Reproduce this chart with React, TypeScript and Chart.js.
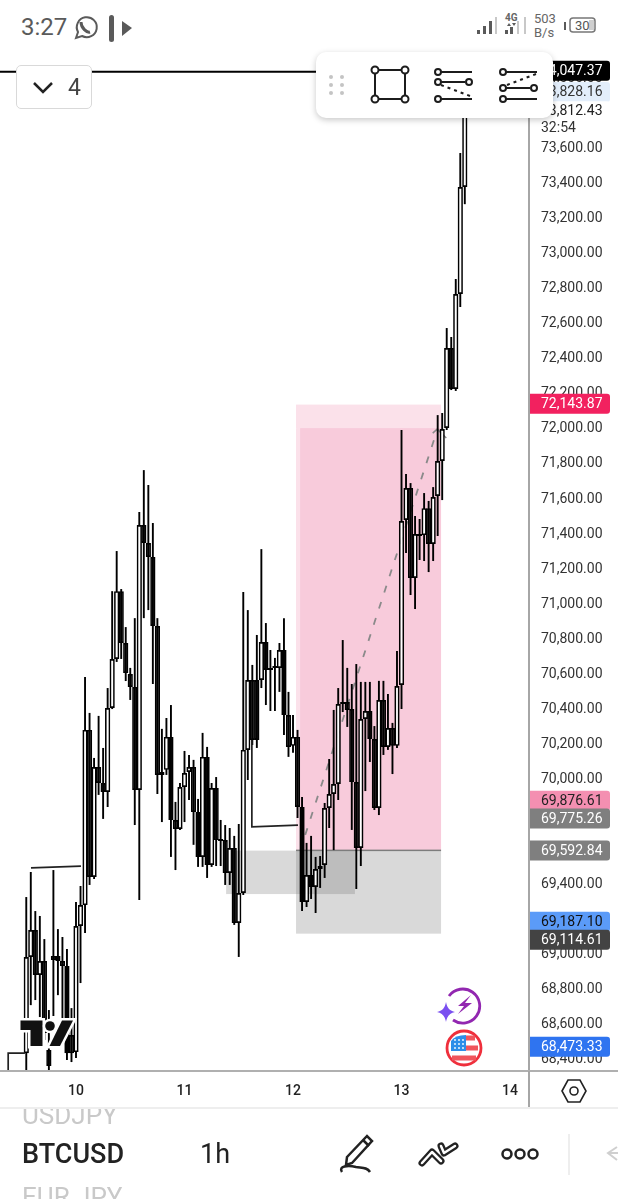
import React, { useEffect, useRef } from "react";
import { Chart, registerables } from "chart.js";

Chart.register(...registerables);

const firstHour = -11;
const highs = [
  69319,69462,69239,69211,69079,68674,69473,69136,69091,69022,
  68685,69291,69382,70575,70370,70113,70353,70170,70512,71065,
  71294,71077,70860,70627,70911,71517,71756,71671,71454,70911,
  70279,70341,70415,69862,69970,70153,70130,70102,69879,70256,
  70176,69970,70004,69759,69730,69713,69668,69736,71060,70957,
  70644,70815,71305,70883,70729,70684,70769,70911,70490,70358,
  70273,69890,69628,69668,69548,69553,69856,70107,70387,70512,
  70786,70627,70535,70649,70547,70547,70547,70295,70553,70553,
  70478,70313,70723,71985,71734,71682,71494,71477,71625,71580,
  71659,72070,72082,72567,72516,72847,73566,74047,
];
const lows = [
  68330,68702,68731,68634,68503,68326,68640,68759,68628,68389,
  68377,68400,68828,69114,69388,69422,69902,69765,69833,70392,
  70661,70678,70552,70444,69730,69302,70911,70957,70535,69907,
  69747,70016,69548,69473,69702,69747,69873,69617,69491,69491,
  69428,69491,69496,69496,69388,69388,69160,68977,69331,69987,
  70187,70170,70512,70415,70381,70381,70490,70244,70119,70142,
  69770,69239,69262,69308,69228,69371,69428,69713,69587,69873,
  70375,70290,69702,69365,69496,69924,70090,69816,69787,70130,
  70159,70021,70170,70392,71283,71043,70963,71243,71237,71174,
  71237,71380,71585,71985,72213,72208,72687,73274,
];
const opens = [
  68428,68977,69131,68874,68954,68446,68982,68982,68954,68925,
  68531,68434,69154,69273,70273,69433,70061,69970,69919,70398,
  70678,71065,70769,70592,70518,69930,71442,71340,71260,70866,
  70016,70045,70233,69759,69708,69947,70033,70061,69805,69548,
  70119,69502,69941,69650,69644,69456,69599,69171,69342,70159,
  70558,70558,70558,70775,70627,70627,70627,70729,70358,70182,
  70233,69833,69291,69445,69376,69479,69502,69827,69907,69964,
  70432,70432,70392,69976,69599,70335,70381,70221,69827,70444,
  70176,70284,70182,70529,71471,71654,71140,71391,71385,71539,
  71334,71608,71808,71996,72453,72219,72761,73372,
];
const closes = [
  68977,69131,68874,68954,68543,68354,68960,68954,68925,68428,
  68428,69154,69273,70273,69433,70061,69970,69919,70398,70678,
  71065,70769,70598,70518,69930,71442,71340,71260,70866,70016,
  70033,70233,69759,69708,69947,70027,70061,69805,69548,70119,
  69502,69941,69644,69639,69456,69599,69171,69342,70159,70558,
  70216,70216,70775,70615,70615,70638,70729,70358,70176,70233,
  69833,69291,69445,69376,69479,69496,69827,69907,69964,70421,
  70421,70387,69976,69599,70335,70381,70221,69827,70444,70176,
  70284,70182,70524,71465,71654,71140,71391,71380,71539,71334,
  71602,71808,71990,72453,72219,72761,73372,73812,
];

const dayHours = [0, 24, 48, 72, 96];
const dayLabels = ["10", "11", "12", "13", "14"];
const priceTicks = [
  68400,68600,68800,69000,69200,69400,69600,69800,70000,70200,70400,70600,
  70800,71000,71200,71400,71600,71800,72000,72200,72400,72600,72800,73000,
  73200,73400,73600,73800,74000,
];

// price markers on the right axis
const markerPrices = [74047.37, 73828.16, 73812.43, 72143.87, 69876.61, 69775.26, 69592.84, 69187.1, 69114.61, 68473.33];
const markerFills = ["#000000", "#e3eefb", "#ffffff", "#f2215f", "#f48fb1", "#7f7f7f", "#7f7f7f", "#5b9bf8", "#434343", "#2f74f0"];
const markerInks = ["#ffffff", "#333333", "#222222", "#ffffff", "#222222", "#ffffff", "#ffffff", "#111111", "#ffffff", "#ffffff"];
const markerNudges = [2, -15, 1.5, 1.5, 1.5, 1.5, 1.5, 1.5, 7, 1.5];
const countdownText = "32:54";

// zones: hour start, hour end, top price, bottom price
const targetZone = [48.67, 80.75, 72130, 71996];
const targetEdge = [48.67, 49.56, 71996, 69584];
const targetMain = [49.56, 80.75, 71996, 69584];
const stopZone = [48.67, 80.75, 69584, 69110];
const leftZone = [33.2, 61.7, 69584, 69336];

const dashHours = [50.7, 79.9];
const dashPrices = [69674, 71985];
const arrowHours = [78.9, 79.9, 81.9];
const arrowPrices = [71967, 71990, 71939];
const hookAHours = [-9.96, 1.1];
const hookAPrices = [69485, 69496];
const hookBHours = [38.9, 38.9, 49.1];
const hookBPrices = [70216, 69719, 69730];
const hookCHours = [-15, -15, -11.3];
const hookCPrices = [68326, 68428, 68428];
const topLineHours = [-16.81, 100.2];
const topLinePrices = [74030, 74030];

const toPoints = (xs: number[], ys: number[]) => xs.map((x, i) => ({ x, y: ys[i] }));
const fmt = (v: number) => v.toLocaleString("en-US", { minimumFractionDigits: 2, maximumFractionDigits: 2 });

const overlayPlugin = {
  id: "overlays",
  beforeDatasetsDraw(chart: any) {
    const { ctx, scales: { x, y } } = chart;
    const rect = (z: number[], color: string) => {
      const l = x.getPixelForValue(z[0]);
      const r = x.getPixelForValue(z[1]);
      const t = y.getPixelForValue(z[2]);
      const b = y.getPixelForValue(z[3]);
      ctx.fillStyle = color;
      ctx.fillRect(l, t, r - l, b - t);
    };
    ctx.save();
    rect(targetZone, "#fbe1ea");
    rect(targetEdge, "#fbe1ea");
    rect(targetMain, "#f8cbdb");
    rect(stopZone, "#d9d9d9");
    rect(leftZone, "rgba(120,120,120,0.28)");
    const lineY = y.getPixelForValue(targetMain[3]);
    ctx.fillStyle = "#7d7d7d";
    ctx.fillRect(x.getPixelForValue(stopZone[0]), lineY - 1, x.getPixelForValue(stopZone[1]) - x.getPixelForValue(stopZone[0]), 1.5);
    ctx.restore();
  },
  afterDraw(chart: any) {
    const { ctx, scales: { y } } = chart;
    ctx.save();
    ctx.font = "14px Roboto";
    ctx.textBaseline = "middle";
    ctx.textAlign = "left";
    markerPrices.forEach((p, i) => {
      const cy = y.getPixelForValue(p) + markerNudges[i];
      ctx.fillStyle = markerFills[i];
      ctx.beginPath();
      ctx.roundRect(530, cy - 10, 80, 20, [0, 3, 3, 0]);
      ctx.fill();
      ctx.fillStyle = markerInks[i];
      ctx.fillText(fmt(p), 541, cy + 0.5);
    });
    ctx.fillStyle = "#ffffff";
    ctx.fillRect(530, 120, 80, 16);
    ctx.fillStyle = "#333333";
    ctx.fillText(countdownText, 541, 128);
    ctx.restore();
  },
};

const lineBase = { type: "line", pointRadius: 0, fill: false, tension: 0, spanGaps: true };
const tickLabelShift = 9;

export default function App() {
  const ref = useRef<HTMLCanvasElement | null>(null);
  useEffect(() => {
    document.body.style.margin = "0";
    const idx = highs.map((_, i) => firstHour + i);
    const chart = new Chart(ref.current as HTMLCanvasElement, {
      type: "bar",
      data: {
        datasets: [
          { ...lineBase, data: toPoints(dashHours, dashPrices), borderColor: "#8a8a8a", borderWidth: 1.8, borderDash: [7, 10], order: 5 },
          { ...lineBase, data: toPoints(arrowHours, arrowPrices), borderColor: "#8a8a8a", borderWidth: 1.5, order: 5 },
          {
            type: "bar",
            data: idx.map((h, i) => ({ x: h, y: [lows[i], highs[i]] })),
            backgroundColor: "#000000",
            borderWidth: 0,
            grouped: false,
            barPercentage: 0.42,
            categoryPercentage: 1,
            order: 3,
          },
          {
            type: "bar",
            data: idx.map((h, i) => ({ x: h, y: [opens[i], closes[i]] })),
            backgroundColor: idx.map((_, i) => (closes[i] >= opens[i] ? "#ffffff" : "#000000")),
            borderColor: "#000000",
            borderWidth: 1.7,
            borderSkipped: false,
            minBarLength: 2,
            grouped: false,
            barPercentage: 1.16,
            categoryPercentage: 1,
            order: 2,
          },
          { ...lineBase, data: toPoints(hookAHours, hookAPrices), borderColor: "#222222", borderWidth: 1.7, order: 1 },
          { ...lineBase, data: toPoints(hookBHours, hookBPrices), borderColor: "#222222", borderWidth: 1.7, order: 1 },
          { ...lineBase, data: toPoints(hookCHours, hookCPrices), borderColor: "#222222", borderWidth: 1.7, order: 1 },
          { ...lineBase, data: toPoints(topLineHours, topLinePrices), borderColor: "#000000", borderWidth: 2, order: 1 },
        ] as any,
      },
      options: {
        responsive: false,
        animation: false,
        layout: { padding: { top: 60, left: 0, right: 0, bottom: 0 } },
        plugins: { legend: { display: false }, tooltip: { enabled: false } },
        scales: {
          x: {
            type: "linear",
            min: -16.81,
            max: 100.2,
            offset: false,
            grid: { display: false, drawTicks: false },
            border: { display: false },
            afterBuildTicks: (s: any) => { s.ticks = dayHours.map((value) => ({ value })); },
            afterFit: (s: any) => { s.height = 128; },
            ticks: {
              autoSkip: false,
              maxRotation: 0,
              padding: 12,
              color: "#222222",
              font: { family: "Roboto", size: 14, weight: "500" },
              callback: (v: any) => dayLabels[dayHours.indexOf(Number(v))] ?? "",
            },
          },
          y: {
            position: "right",
            type: "linear",
            min: 68326,
            max: 74097,
            grid: { display: false, drawTicks: false },
            border: { display: true, color: "#a6a6a6", width: 2 },
            afterBuildTicks: (s: any) => { s.ticks = priceTicks.map((p) => ({ value: p - tickLabelShift })); },
            afterFit: (s: any) => { s.width = 89; },
            ticks: {
              autoSkip: false,
              padding: 12,
              color: "#333333",
              font: { family: "Roboto", size: 14 },
              callback: (_: any, i: number) => fmt(priceTicks[i]),
            },
          },
        },
      } as any,
      plugins: [overlayPlugin] as any,
    });
    return () => chart.destroy();
  }, []);

  const text = (left: number, top: number, s: string, style: React.CSSProperties = {}) => (
    <div style={{ position: "absolute", left, top, fontFamily: "Roboto", lineHeight: 1, whiteSpace: "nowrap", ...style }}>{s}</div>
  );

  return (
    <div style={{ position: "absolute", left: 0, top: 0, width: 618, height: 1199, overflow: "hidden", background: "#fff" }}>
      <canvas ref={ref} width={618} height={1199} style={{ display: "block", position: "absolute", left: 0, top: 0 }} />

      {/* status bar */}
      <div style={{ position: "absolute", left: 0, top: 0, width: 618, height: 60, background: "#fff" }} />
      {text(21, 15, "3:27", { fontSize: 24, color: "#5a5a5a" })}
      {text(534, 12, "503", { fontSize: 13, color: "#666" })}
      {text(534, 26, "B/s", { fontSize: 13, color: "#666" })}
      <svg width={618} height={1199} style={{ position: "absolute", left: 0, top: 0, pointerEvents: "none" }}>
        <g fill="none" stroke="#5a5a5a" strokeWidth="2">
          <path d="M76 38 L78 32 A10 10 0 1 1 82 36 Z" />
          <path d="M81 22 C81 28 87 33 90 32" strokeWidth="3" />
        </g>
        <g fill="#5a5a5a">
          <rect x="109" y="15" width="5" height="27" rx="2.5" />
          <path d="M122 21 L132 28 L122 36 Z" />
          <rect x="477" y="30" width="3" height="4" />
          <rect x="483" y="26" width="3" height="8" />
          <rect x="489" y="21" width="3" height="13" />
          <rect x="495" y="17" width="2" height="17" fill="#c8c8c8" />
          <rect x="505" y="30" width="3" height="4" />
          <rect x="510" y="27" width="3" height="7" />
          <rect x="517" y="21" width="2" height="13" fill="#c8c8c8" />
          <rect x="524" y="17" width="2" height="17" fill="#c8c8c8" />
          <rect x="564" y="22" width="2" height="8" />
          <path d="M507 26 L509 23 L511 26 Z M512 23 L514 26 L516 23 Z" />
        </g>
        <rect x="570" y="18" width="25" height="14" rx="3" fill="none" stroke="#777" strokeWidth="1.5" />
        <rect x="589" y="20" width="5" height="10" fill="#cfcfcf" />
        <text x="575" y="30" fontFamily="Roboto" fontSize="13" fill="#555">30</text>
        <text x="505" y="21" fontFamily="Roboto" fontSize="10" fontWeight="700" fill="#666">4G</text>
      </svg>

      {/* collapse box */}
      <div style={{ position: "absolute", left: 16, top: 65, width: 74, height: 42, background: "#fff", border: "1px solid #d9d9d9", borderRadius: 5 }} />
      {text(68, 76, "4", { fontSize: 23, color: "#444" })}

      {/* drawing toolbar */}
      <div style={{ position: "absolute", left: 316, top: 52, width: 237, height: 66, background: "#fff", borderRadius: 10, boxShadow: "0 2px 6px rgba(0,0,0,0.22)" }} />

      <svg width={618} height={1199} style={{ position: "absolute", left: 0, top: 0, pointerEvents: "none" }}>
        <path d="M34 83 L43 92 L52 83" fill="none" stroke="#222" strokeWidth="2.5" />
        <g fill="#c4c4c4">
          {[331, 342].map((cx) => [77, 85, 93].map((cy) => <circle key={`${cx}-${cy}`} cx={cx} cy={cy} r="2" />))}
        </g>
        <g fill="#fff" stroke="#1c1c1c" strokeWidth="2">
          <rect x="375" y="70" width="30" height="29" fill="none" />
          <circle cx="375" cy="70" r="3.5" /><circle cx="405" cy="70" r="3.5" />
          <circle cx="375" cy="99" r="3.5" /><circle cx="405" cy="99" r="3.5" />
          <path d="M441 72 H472 M441 82 H465 M441 99 H472" />
          <circle cx="438" cy="72" r="3" /><circle cx="438" cy="82" r="3" /><circle cx="469" cy="82" r="3" /><circle cx="438" cy="99" r="3" />
          <path d="M441 85 L470 96" strokeDasharray="3 4" />
          <path d="M506 72 H537 M506 88 H530 M506 99 H537" />
          <circle cx="503" cy="72" r="3" /><circle cx="503" cy="88" r="3" /><circle cx="534" cy="88" r="3" /><circle cx="503" cy="99" r="3" />
          <path d="M507 85 L536 74" strokeDasharray="3 4" />
        </g>

        {/* TradingView logo */}
        <g fill="#111" stroke="#fff" strokeWidth="5" paintOrder="stroke">
          <path d="M20.5 1020.5 H42.5 V1046 H30.5 V1030 H20.5 Z" />
          <circle cx="50" cy="1026" r="4.8" />
          <path d="M62 1020.5 H73 L60 1046 H49.5 Z" />
        </g>

        {/* purple + flag badges */}
        <path d="M449 996 A17 17 0 1 1 453 1020" fill="none" stroke="#9227b0" strokeWidth="2.8" />
        <path d="M471 995 L458 1006 L464 1006 L458 1014 L472 1003 L465 1003 Z" fill="#9227b0" />
        <path d="M446 1002 C447 1008 450 1011 455 1012 C450 1013 447 1016 446 1022 C445 1016 442 1013 437 1012 C442 1011 445 1008 446 1002 Z" fill="#7a4ff0" />
        <circle cx="464" cy="1048" r="17" fill="#fff" stroke="#ef2f3c" strokeWidth="2.8" />
        <path d="M466 1038 H475 M466 1048 H478 M452 1058 H476" stroke="#f0555c" strokeWidth="5" />
        <path d="M451 1051 V1041 Q455 1035 466 1035 V1051 Z" fill="#2d8ee8" />
        <g fill="#fff">
          {[455, 459, 463].map((cx) => [1040, 1044, 1048].map((cy) => <circle key={`s${cx}-${cy}`} cx={cx} cy={cy} r="0.9" />))}
        </g>

        {/* axis remainder */}
        <path d="M0 1071 H618" stroke="#b0b0b0" strokeWidth="2" />
        <path d="M529 1071 V1108" stroke="#a6a6a6" strokeWidth="2" />
        <path d="M0 1108 H618" stroke="#eeeeee" strokeWidth="2" />
        {/* hexagon */}
        <path d="M562 1091 L568 1080 H580 L586 1091 L580 1102 H568 Z" fill="none" stroke="#222" strokeWidth="1.6" />
        <circle cx="574" cy="1091" r="4" fill="none" stroke="#222" strokeWidth="1.6" />
        {/* pencil */}
        <g fill="none" stroke="#222" strokeWidth="2.5">
          <path d="M347 1157 L367 1136 L372 1141 L352 1163 L346 1165 Z" />
          <path d="M363 1140 L369 1146" />
          <path d="M342 1172 C338 1166 348 1165 356 1167 C362 1168 367 1167 370 1172" />
          <circle cx="507" cy="1154" r="4.5" /><circle cx="520" cy="1154" r="4.5" /><circle cx="533" cy="1154" r="4.5" />
        </g>
        {/* double chevron */}
        <g fill="none" strokeLinecap="round" strokeLinejoin="round">
          <path d="M422 1163 L432 1152 L441 1161" stroke="#222" strokeWidth="7" />
          <path d="M422 1163 L432 1152 L441 1161" stroke="#fff" strokeWidth="2.5" />
          <path d="M441 1146 L444 1153 L455 1146" stroke="#222" strokeWidth="7" />
          <path d="M441 1146 L444 1153 L455 1146" stroke="#fff" strokeWidth="2.5" />
        </g>
        <path d="M569 1134 V1175" stroke="#e8e8e8" strokeWidth="1.5" />
        <path d="M617 1147 L608 1153 L617 1160 M608 1153 H618" fill="none" stroke="#cfcfcf" strokeWidth="2" />
      </svg>

      {/* bottom bar */}
      <div style={{ position: "absolute", left: 22, top: 1109, width: 120, height: 18, overflow: "hidden" }}>
        {text(0, -7, "USDJPY", { fontSize: 26, color: "#c9c9c9" })}
      </div>
      {text(22, 1141, "BTCUSD", { fontSize: 27, fontWeight: 500, color: "#222" })}
      {text(200, 1141, "1h", { fontSize: 27, color: "#222" })}
      {text(22, 1184, "EUR JPY", { fontSize: 26, color: "#c9c9c9" })}
    </div>
  );
}
